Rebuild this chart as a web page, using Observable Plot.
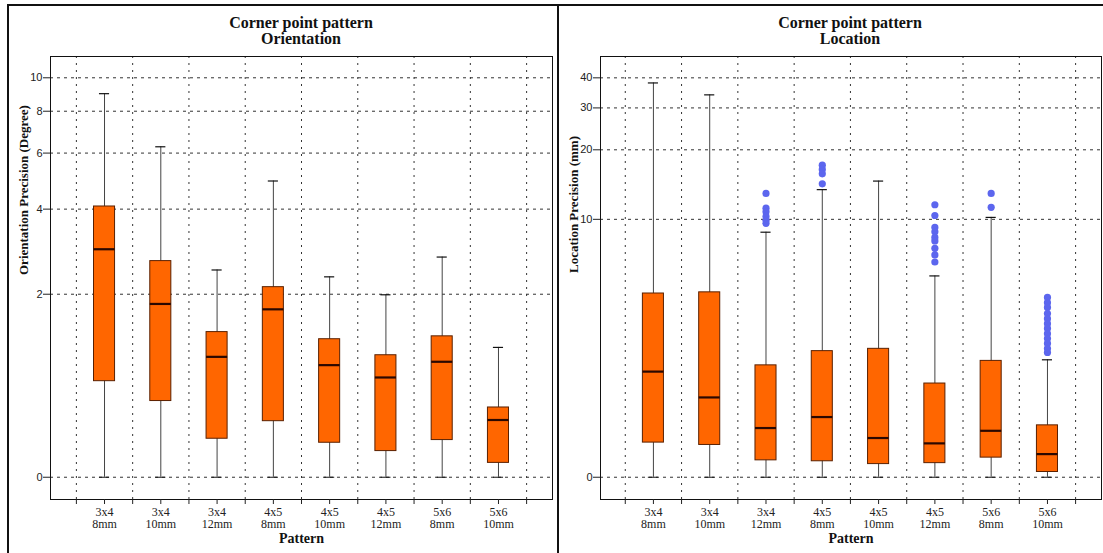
<!DOCTYPE html>
<html>
<head>
<meta charset="utf-8">
<script src="https://cdn.jsdelivr.net/npm/d3@7"></script>
<script src="https://cdn.jsdelivr.net/npm/@observablehq/plot@0.6"></script>
<style>
  html, body { margin: 0; padding: 0; background: #fff; }
  #wrap { position: relative; width: 1103px; height: 553px; overflow: hidden; background: #fff; }
  .panel { position: absolute; top: 4px; height: 600px; border: 2px solid #111; box-sizing: border-box; }
  .title { position: absolute; font-family: "Liberation Serif", "Times New Roman", serif; font-weight: bold;
           font-size: 16px; line-height: 16px; text-align: center; color: #111; width: 400px; }
  .plot { position: absolute; top: 0; }
</style>
</head>
<body>
<div id="wrap">
  <div class="panel" style="left:7px; width:552px;"></div>
  <div class="panel" style="left:557px; width:560px;"></div>
  <div class="title" style="left:101px; top:15px;">Corner point pattern<br>Orientation</div>
  <div class="title" style="left:650px; top:15px;">Corner point pattern<br>Location</div>
  <div id="left" class="plot" style="left:0px;"></div>
  <div id="right" class="plot" style="left:557px;"></div>
</div>
<script>
// ---- categories ----
const patterns = ["3x4", "3x4", "3x4", "4x5", "4x5", "4x5", "5x6", "5x6"];
const sizes = ["8mm", "10mm", "12mm", "8mm", "10mm", "12mm", "8mm", "10mm"];

// ---- Orientation precision (degree) ----
const oriMin = [0, 0, 0, 0, 0, 0, 0, 0];
const oriQ1 = [0.78, 0.58, 0.26, 0.40, 0.23, 0.17, 0.25, 0.09];
const oriMedian = [2.93, 1.83, 1.06, 1.74, 0.96, 0.82, 1.00, 0.41];
const oriQ3 = [4.08, 2.66, 1.39, 2.13, 1.29, 1.08, 1.33, 0.52];
const oriMax = [9.0, 6.27, 2.47, 4.92, 2.33, 1.99, 2.75, 1.18];
const oriOutliers = [[], [], [], [], [], [], [], []];
const oriTicks = [0, 2, 4, 6, 8, 10];

// ---- Location precision (mm) ----
const locMin = [0, 0, 0, 0, 0, 0, 0, 0];
const locQ1 = [0.38, 0.35, 0.17, 0.16, 0.13, 0.14, 0.20, 0.05];
const locMedian = [1.67, 1.10, 0.58, 0.75, 0.44, 0.37, 0.54, 0.24];
const locQ3 = [4.52, 4.58, 1.83, 2.23, 2.30, 1.39, 1.95, 0.62];
const locMax = [38.1, 34.0, 8.76, 13.5, 14.7, 5.5, 10.2, 1.98];
const locOutliers = [
  [],
  [],
  [13.0, 11.2, 10.8, 10.3, 9.9, 9.6],
  [17.2, 16.5, 15.8, 14.3],
  [],
  [11.6, 10.4, 9.2, 8.8, 8.3, 8.0, 7.4, 6.9, 6.4],
  [13.0, 11.3],
  [4.32, 4.07, 3.85, 3.58, 3.37, 3.17, 2.99, 2.80, 2.63, 2.47, 2.31, 2.19]
];
const locTicks = [0, 10, 20, 30, 40];

function panel({min, q1, med, q3, max, outliers, yDomain, yTicks, yLabel, xDomain, width, ml, mr, labelDy}) {
  const boxes = patterns.map((p, i) => ({i, lo: min[i], q1: q1[i], med: med[i], q3: q3[i], hi: max[i]}));
  const outl = outliers.flatMap((arr, i) => arr.map(v => ({i, v})));
  const boundaries = d3.range(patterns.length + 1).map(i => i - 0.5);
  const bw = 0.187, cw = 0.09;
  return Plot.plot({
    width, height: 553,
    marginLeft: ml, marginRight: mr, marginTop: 56, marginBottom: 54,
    style: {fontFamily: "'Liberation Serif', 'Times New Roman', serif", background: "transparent", overflow: "visible", color: "#222"},
    x: {type: "linear", domain: xDomain},
    y: {type: "symlog", constant: 1, domain: yDomain},
    marks: [
      Plot.ruleY(yTicks, {stroke: "#333", strokeWidth: 1, strokeDasharray: "3,4"}),
      Plot.ruleX(boundaries, {stroke: "#333", strokeWidth: 1, strokeDasharray: "2,5"}),
      Plot.ruleX(boxes, {x: "i", y1: "lo", y2: "hi", stroke: "#444", strokeWidth: 1}),
      Plot.ruleY(boxes, {y: "hi", x1: d => d.i - cw, x2: d => d.i + cw, stroke: "#111", strokeWidth: 1.2}),
      Plot.ruleY(boxes, {y: "lo", x1: d => d.i - cw, x2: d => d.i + cw, stroke: "#111", strokeWidth: 1}),
      Plot.rect(boxes, {x1: d => d.i - bw, x2: d => d.i + bw, y1: "q1", y2: "q3", fill: "#FF6600", stroke: "#5a2000", strokeWidth: 1}),
      Plot.ruleY(boxes, {y: "med", x1: d => d.i - bw, x2: d => d.i + bw, stroke: "#2a0800", strokeWidth: 2.2}),
      Plot.dot(outl, {x: "i", y: "v", r: 3.6, fill: "#5C66EE", stroke: null}),
      Plot.frame({stroke: "#111", strokeWidth: 1}),
      Plot.axisY({ticks: yTicks, tickSize: 7, tickPadding: 1, label: null, tickFormat: d => String(d),
                  fontFamily: "'Liberation Sans', Arial, sans-serif", fontSize: 11}),
      Plot.axisX({ticks: d3.range(patterns.length), tickSize: 5, tickPadding: 3, label: null,
                  tickFormat: i => `${patterns[i]}\n${sizes[i]}`, fontSize: 12, lineHeight: 1}),
      Plot.axisX({ticks: boundaries, tickSize: 5, label: null, tickFormat: () => ""}),
      Plot.text([yLabel], {frameAnchor: "left", dx: -27, dy: labelDy, rotate: -90, text: d => d,
                           fontWeight: "bold", fontSize: 13, fill: "#111"}),
      Plot.text(["Pattern"], {frameAnchor: "bottom", dy: 43, text: d => d,
                              fontWeight: "bold", fontSize: 14, fill: "#111"})
    ]
  });
}

document.getElementById("left").appendChild(panel({
  min: oriMin, q1: oriQ1, med: oriMedian, q3: oriQ3, max: oriMax, outliers: oriOutliers,
  yDomain: [-0.143, 11.5], yTicks: oriTicks, yLabel: "Orientation Precision (Degree)",
  xDomain: [-0.96, 7.96], width: 557, ml: 50, mr: 5, labelDy: -3
}));
document.getElementById("right").appendChild(panel({
  min: locMin, q1: locQ1, med: locMedian, q3: locQ3, max: locMax, outliers: locOutliers,
  yDomain: [-0.23, 49], yTicks: locTicks, yLabel: "Location Precision (mm)",
  xDomain: [-0.94, 7.96], width: 546, ml: 43, mr: 2, labelDy: -5
}));
</script>
</body>
</html>
